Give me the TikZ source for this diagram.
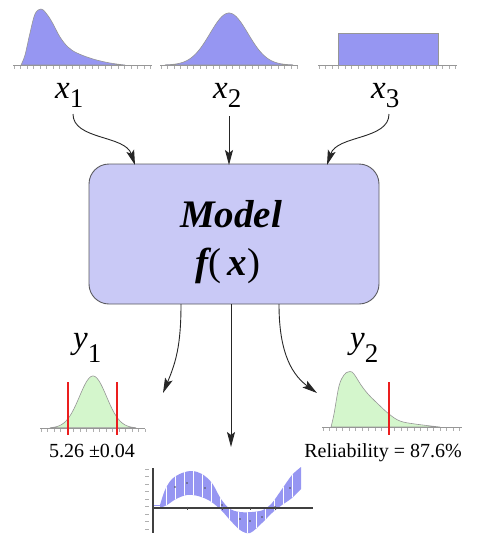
\documentclass[tikz,border=0pt]{standalone}
\usepackage{fontspec}
\setmainfont{Liberation Serif}
\usetikzlibrary{arrows.meta}
\definecolor{distblue}{RGB}{150,150,242}
\definecolor{boxfill}{RGB}{201,201,246}
\definecolor{boxline}{RGB}{90,90,95}
\definecolor{distgreen}{RGB}{212,246,204}
\definecolor{redline}{RGB}{235,30,30}
\definecolor{outgray}{RGB}{150,150,150}
\definecolor{tickgray}{RGB}{175,175,175}
\newcommand\varlab[3]{{\fontsize{33}{36}\selectfont\itshape #1}\raisebox{#3}{\fontsize{27}{30}\selectfont #2}}
\begin{document}
\begin{tikzpicture}[x=1pt,y=-1pt,
  distb/.style={fill=distblue,draw=outgray,line width=0.6pt},
  distg/.style={fill=distgreen,draw=outgray,line width=0.6pt},
  baseln/.style={draw=outgray,line width=0.8pt},
  tickln/.style={draw=tickgray,line width=0.5pt},
  redmark/.style={draw=redline,line width=1.3pt},
  modelbox/.style={draw=boxline,fill=boxfill,line width=0.9pt,rounded corners=20pt,minimum width=290pt,minimum height=140pt,inner sep=0pt},
  conn/.style={draw=black!85,line width=0.9pt,-{Stealth[length=15pt,width=8pt,inset=3pt]}},
  lab/.style={inner sep=0pt,anchor=base west},
  smalltxt/.style={inner sep=0pt,anchor=base,font=\fontsize{20}{22}\selectfont}]
\useasboundingbox (0,0) rectangle (481,542);

% ---------- input distributions ----------
\path[distb] plot[smooth,tension=0.6] coordinates {(21,65) (25,55) (30,33) (35,14) (41,9) (46,13) (52,22) (60,37) (68,47) (77,53) (93,59) (110,63) (125,65)} -- cycle;
\draw[baseln] (13,65) -- (152,65);
\foreach \t in {14,20.5,...,152} \draw[tickln] (\t,66) -- (\t,68.5);
\path[distb] plot[domain=165:293,samples=80] (\x,{65-52*exp(-((\x-229)/19)^2/2)}) -- cycle;
\draw[baseln] (160,65) -- (298,65);
\foreach \t in {161,167.5,...,298} \draw[tickln] (\t,66) -- (\t,68.5);
\path[distb] (338,65) rectangle (438,33);
\draw[baseln] (318,65) -- (457,65);
\foreach \t in {319,325.5,...,457} \draw[tickln] (\t,66) -- (\t,68.5);

% ---------- input labels ----------
\node[lab] (x1) at (55,98) {\varlab{x}{1}{-9pt}};
\node[lab] (x2) at (213,98) {\varlab{x}{2}{-9pt}};
\node[lab] (x3) at (371,98) {\varlab{x}{3}{-9pt}};

% ---------- model box ----------
\node[modelbox] (model) at (234,234) {};
\node[inner sep=0pt,anchor=base] (mtitle) at (231,227) {\fontsize{39}{44}\selectfont\bfseries\itshape Model};
\node[inner sep=0pt,anchor=base] (mfunc) at (228,275) {\fontsize{39}{44}\selectfont{\bfseries\itshape f}(\,{\bfseries\itshape x})};

% ---------- input arrows ----------
\coordinate (s1) at (73,114);
\coordinate (s2) at (229,116);
\coordinate (s3) at (389,114);
\coordinate (e1) at (135,165);
\coordinate (e2) at (229,165);
\coordinate (e3) at (327,165);
\draw[conn] (s1) .. controls (73,140) and (125,135) .. (e1);
\draw[conn] (s2) -- (e2);
\draw[conn] (s3) .. controls (389,140) and (337,135) .. (e3);

% ---------- output arrows ----------
\coordinate (o1) at (181,304);
\coordinate (o2) at (231,304);
\coordinate (o3) at (279,304);
\coordinate (t1) at (163,393);
\coordinate (t2) at (231,447);
\coordinate (t3) at (317,393);
\draw[conn] (o1) .. controls (181,345) and (176,362) .. (t1);
\draw[conn] (o2) -- (t2);
\draw[conn] (o3) .. controls (279,345) and (288,372) .. (t3);

% ---------- output y1 ----------
\node[lab] (y1) at (73,348) {\varlab{y}{1}{-14pt}};
\path[distg] plot[domain=50:136,samples=80] (\x,{428-52*exp(-((\x-93)/13.5)^2/2)}) -- cycle;
\draw[baseln] (40,428) -- (145,428);
\foreach \t in {41,47.5,...,145} \draw[tickln] (\t,429) -- (\t,431.5);
\draw[redmark] (68,382) -- (68,435);
\draw[redmark] (117,382) -- (117,435);
\node[smalltxt] (y1txt) at (92,457) {5.26 ±0.04};

% ---------- output y2 ----------
\node[lab] (y2) at (350,348) {\varlab{y}{2}{-14pt}};
\path[distg] plot[smooth,tension=0.6] coordinates {(331,427) (334,414) (339,386) (344,375) (348,372) (352,372) (356,377) (361,385) (368,394) (377,403) (389,414) (400,421) (415,424) (440,427)} -- cycle;
\draw[baseln] (322,427) -- (462,427);
\foreach \t in {323,329.5,...,462} \draw[tickln] (\t,428) -- (\t,430.5);
\draw[redmark] (389,382) -- (389,435);
\node[smalltxt] (y2txt) at (383,457) {Reliability = 87.6\%};

% ---------- output function band ----------
\def\bandpath{plot[smooth,tension=0.55] coordinates {(160,505) (165,490) (172,479) (182,473) (192,471) (202,474) (212,483) (221,499) (230,509) (240,512) (252,512) (263,510) (272,503) (282,489) (292,475) (301,467)} -- plot[smooth,tension=0.55] coordinates {(301,489) (292,498) (282,505) (272,513) (262,523) (250,533) (240,530) (230,520) (221,510) (210,501) (198,496) (187,495) (176,499) (167,505) (160,508)} -- cycle}
\path[fill=distblue] \bandpath;
\begin{scope}
\clip \bandpath;
\foreach \t in {166,175,...,300} \draw[white,line width=0.8pt] (\t,460) -- (\t,540);
\end{scope}
\draw[distblue,line width=1pt] (153,505) -- (160,505);
\foreach \p in {(175,487),(187,483),(205,488),(222,505),(240,519),(250,521),(262,517),(275,507),(290,488)} \fill[black!70] \p circle (0.9pt);
\draw[black!75,line width=1.6pt] (153,468) -- (153,533);
\draw[black!75,line width=1.6pt] (153,508) -- (313,508);
\foreach \t in {469,476.5,...,533} \draw[tickgray,line width=0.6pt] (145,\t) -- (149,\t);
\foreach \t in {187,222,250,275} \draw[black!70,line width=1pt] (\t,506.5) -- (\t,509.5);
\end{tikzpicture}
\end{document}
